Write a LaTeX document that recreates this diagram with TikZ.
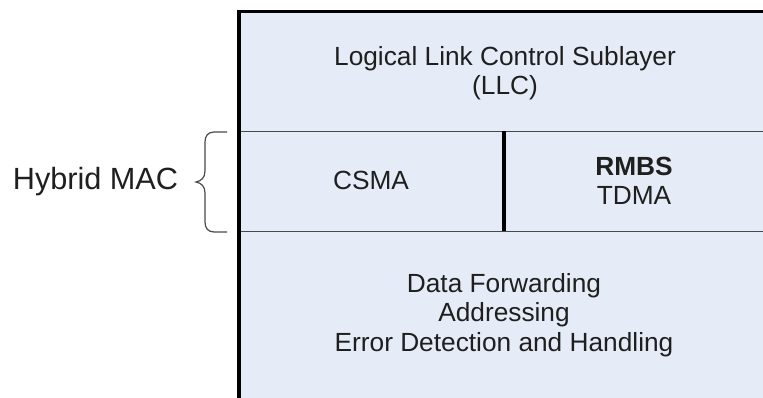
\documentclass[tikz,border=0pt]{standalone}
\usepackage{fontspec}
\setmainfont{Liberation Sans}
\definecolor{layerfill}{RGB}{230,236,247}
\definecolor{inkgrey}{RGB}{72,72,72}
\begin{document}
\begin{tikzpicture}[x=0.75pt, y=-0.75pt,
    txt/.style={inner sep=0, align=center, text=black!88,
                font=\fontsize{19.7}{22}\selectfont}]
    \useasboundingbox (0, 0) rectangle (763, 398);
    \clip (0, 0) rectangle (763, 398);
    % stack of layers
    \fill[layerfill] (239, 11.5) rectangle (790, 420);
    \draw[inkgrey, line width=1.4pt] (239, 131.5) -- (790, 131.5)
          (239, 231.5) -- (790, 231.5);
    \draw[line width=3.6pt] (504, 131.5) -- (504, 231.5);
    \draw[line width=2.8pt] (239, 420) -- (239, 11.5) -- (790, 11.5);
    \draw (505, 73) node (llc) [txt] {Logical Link Control Sublayer\\(LLC)}
          (371, 180.5) node (csma) [txt] {CSMA}
          (634, 181) node (tdma) [txt] {\textbf{RMBS}\\TDMA}
          (504, 315) node (fwd) [txt] {Data Forwarding\\Addressing\\Error Detection and Handling};
    % brace for the MAC part
    \node (hyb) [inner sep=0, anchor=base, text=black!88,
                 font=\fontsize{23}{27}\selectfont] at (95.5, 190) {Hybrid MAC};
    \draw[inkgrey, line width=0.9pt] (227, 132) -- (214, 132)
          .. controls (208, 132) and (205, 136) .. (205, 142) -- (205, 171)
          .. controls (205, 178) and (201, 181) .. (196, 182)
          .. controls (201, 183) and (205, 186) .. (205, 193) -- (205, 222)
          .. controls (205, 228) and (208, 232) .. (214, 232) -- (227, 232);
\end{tikzpicture}
\end{document}
